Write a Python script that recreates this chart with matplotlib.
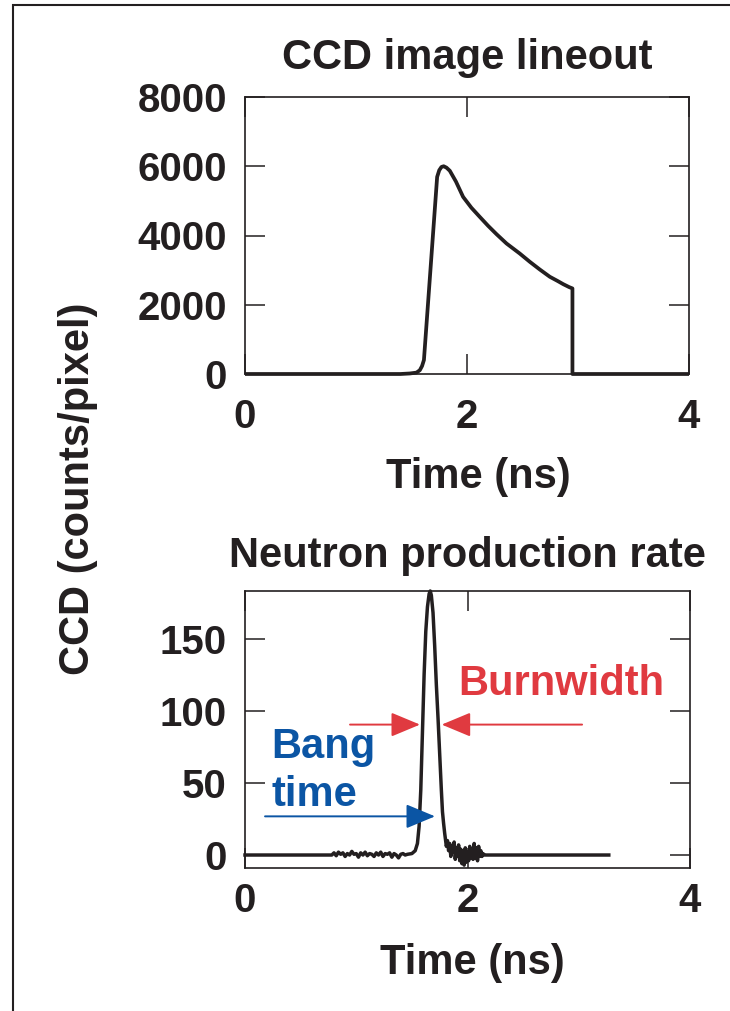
import matplotlib
matplotlib.use('Agg')
import matplotlib.pyplot as plt
from matplotlib.patches import Rectangle

# ---------------- data ----------------
ccd_time = [0.0, 1.40, 1.485, 1.545, 1.575, 1.595, 1.612, 1.675, 1.731, 1.75, 1.77, 1.79,
            1.815, 1.845, 1.90, 1.965, 2.04, 2.115, 2.19, 2.266, 2.356, 2.475, 2.566,
            2.655, 2.746, 2.82, 2.866, 2.92, 2.95, 2.95, 4.0]
ccd_counts = [0, 0, 15, 40, 110, 230, 404, 3200, 5692, 5885, 5980, 6000,
              5960, 5870, 5560, 5115, 4800, 4538, 4280, 4038, 3769, 3480, 3240,
              3020, 2808, 2680, 2596, 2510, 2471, 0, 0]

neut_time = [0.0, 0.78,
             0.80, 0.82, 0.84, 0.86, 0.88, 0.90, 0.92, 0.94, 0.96, 0.98, 1.00,
             1.02, 1.04, 1.06, 1.08, 1.10, 1.12, 1.14, 1.16, 1.18, 1.20, 1.22,
             1.24, 1.26, 1.28, 1.30, 1.32, 1.34, 1.36, 1.38, 1.40, 1.42, 1.44,
             1.46, 1.50, 1.53, 1.55, 1.565, 1.58, 1.595, 1.61, 1.625, 1.64, 1.655,
             1.665, 1.675, 1.69, 1.705, 1.72, 1.735, 1.75, 1.765, 1.775, 1.785, 1.795,
             1.80, 1.81, 1.82, 1.83, 1.84, 1.85, 1.86, 1.87, 1.88, 1.89, 1.90, 1.91,
             1.92, 1.93, 1.94, 1.95, 1.96, 1.97, 1.98, 1.99, 2.00, 2.01, 2.02, 2.03,
             2.04, 2.05, 2.06, 2.07, 2.08, 2.09, 2.10, 2.11, 2.12, 2.13, 2.14, 2.15,
             2.17, 3.27]
neut_rate = [0, 0,
             1.5, -0.5, 2, 0.5, 1.5, -1, 1, 0, 2.5, 0.5, 1,
             -1.5, 1.5, 0, 2, -0.5, 1, 0.5, -1, 1.5, 0, 2,
             -1, 1, 0.5, 1.5, -1.5, 1, 0, -2, 0.5, 1, 0,
             0.5, 1, 3, 8, 20, 45, 85, 125, 155, 172, 181,
             183, 180, 168, 145, 118, 95, 70, 45, 30, 22, 15,
             12, 6, 10, 3, 8, -1, 6, 2, 9, -3, 5, -1,
             7, -4, 4, -6, 3, -7, 5, -5, 2, -4, 6, -2,
             4, -3, 8, -2, 5, -4, 6, -1, 3, -1, 1, 0,
             0, 0]

ccd_yticks = [0, 2000, 4000, 6000, 8000]
neut_yticks = [0, 50, 100, 150]
time_ticks = [0, 2, 4]

# annotation anchor values (data units)
burn_y = 90.4
burn_left = (0.944, 1.573)
burn_right = (3.03, 1.768)
bang_y = 26.8
bang_x = (0.18, 1.708)

# ---------------- style ----------------
FONT = 'Liberation Sans'
plt.rcParams['font.family'] = [FONT, 'DejaVu Sans']
plt.rcParams['font.weight'] = 'bold'
INK = '#231f20'
RED = '#e03a40'
BLUE = '#0b55a4'

W, H = 730, 1011
fig = plt.figure(figsize=(W / 100, H / 100), dpi=100)


def fx(px):
    return px / W


def fy(py):
    return 1 - py / H


def style_axes(ax, xpad, ypad):
    for s in ax.spines.values():
        s.set_linewidth(1.2)
        s.set_color(INK)
    ax.tick_params(direction='in', length=14.5, width=1.1, color=INK,
                   top=True, right=True, labelsize=29, labelcolor=INK)
    ax.tick_params(axis='x', pad=xpad)
    ax.tick_params(axis='y', pad=ypad)
    for lab in ax.get_xticklabels() + ax.get_yticklabels():
        lab.set_fontweight('bold')


# top axes
ax1 = fig.add_axes([fx(245), fy(374), fx(689) - fx(245), (374 - 97) / H])
ax1.plot(ccd_time, ccd_counts, color=INK, lw=2.7, solid_joinstyle='round',
         solid_capstyle='butt', clip_on=False, zorder=3)
ax1.set_xlim(0, 4)
ax1.set_ylim(0, 8000)
ax1.set_xticks(time_ticks)
ax1.set_yticks(ccd_yticks)
ax1.set_xticklabels([str(t) for t in time_ticks])
ax1.set_yticklabels([str(t) for t in ccd_yticks])
style_axes(ax1, xpad=17, ypad=13)

# bottom axes
ax2 = fig.add_axes([fx(245), fy(868), fx(690) - fx(245), (868 - 591) / H])
ax2.plot(neut_time, neut_rate, color=INK, lw=2.5, solid_joinstyle='round',
         clip_on=False, zorder=3)
ax2.set_xlim(0, 4)
ax2.set_ylim(-9, 183)
ax2.set_xticks(time_ticks)
ax2.set_yticks(neut_yticks)
ax2.set_xticklabels([str(t) for t in time_ticks])
ax2.set_yticklabels([str(t) for t in neut_yticks])
style_axes(ax2, xpad=10, ypad=13)

# arrows
arrow_kw = dict(arrowstyle='-|>,head_length=1.8,head_width=0.75', mutation_scale=10,
                lw=1.4, shrinkA=0, shrinkB=0)
ax2.annotate('', xy=(burn_left[1], burn_y), xytext=(burn_left[0], burn_y),
             arrowprops=dict(color=RED, **arrow_kw))
ax2.annotate('', xy=(burn_right[1], burn_y), xytext=(burn_right[0], burn_y),
             arrowprops=dict(color=RED, **arrow_kw))
ax2.annotate('', xy=(bang_x[1], bang_y), xytext=(bang_x[0], bang_y),
             arrowprops=dict(color=BLUE, **arrow_kw))

ax2.text(1.92, 111.2, 'Burnwidth', color=RED, fontsize=30, fontweight='bold',
         ha='left', va='baseline')
ax2.text(0.235, 67.3, 'Bang', color=BLUE, fontsize=30, fontweight='bold',
         ha='left', va='baseline')
ax2.text(0.235, 33.7, 'time', color=BLUE, fontsize=30, fontweight='bold',
         ha='left', va='baseline')

# titles and labels
fig.text(fx(467), fy(69), 'CCD image lineout', fontsize=30, fontweight='bold',
         color=INK, ha='center', va='baseline')
fig.text(fx(467), fy(567), 'Neutron production rate', fontsize=30, fontweight='bold',
         color=INK, ha='center', va='baseline')
fig.text(fx(478), fy(488), 'Time (ns)', fontsize=30, fontweight='bold',
         color=INK, ha='center', va='baseline')
fig.text(fx(472), fy(974), 'Time (ns)', fontsize=30, fontweight='bold',
         color=INK, ha='center', va='baseline')
fig.text(fx(78), fy(489), 'CCD (counts/pixel)', fontsize=30, fontweight='bold',
         color=INK, ha='center', va='center', rotation=90)

# outer frame
fig.add_artist(Rectangle((fx(13), -0.5), 2.0, fy(5) + 0.5, transform=fig.transFigure,
                         fill=False, edgecolor=INK, lw=1.5))

fig.savefig('out.png', dpi=100, facecolor='white')
